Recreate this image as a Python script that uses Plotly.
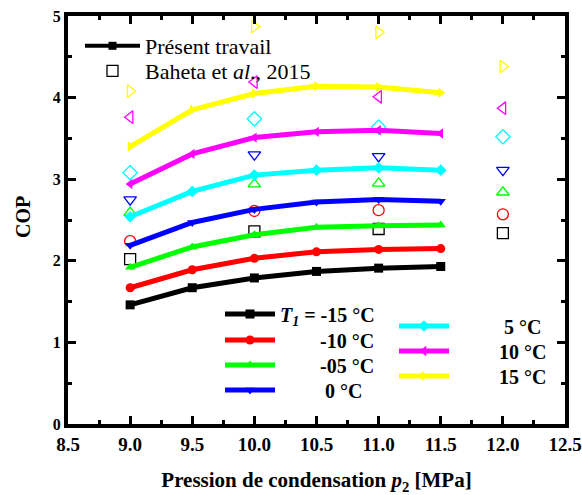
import plotly.graph_objects as go

# Condensing pressure p2 [MPa] for the computed curves
pressure = [9.0, 9.5, 10.0, 10.5, 11.0, 11.5]

# COP from the present model, one series per evaporating temperature T1
cop_m15 = [1.46, 1.67, 1.79, 1.87, 1.91, 1.93]
cop_m10 = [1.67, 1.89, 2.03, 2.11, 2.14, 2.15]
cop_m05 = [1.92, 2.17, 2.32, 2.41, 2.43, 2.44]
cop_0 = [2.19, 2.47, 2.63, 2.72, 2.75, 2.73]
cop_5 = [2.54, 2.85, 3.05, 3.11, 3.14, 3.11]
cop_10 = [2.94, 3.31, 3.51, 3.58, 3.60, 3.56]
cop_15 = [3.40, 3.85, 4.05, 4.14, 4.13, 4.06]

# Reference data (Baheta et al., 2015)
pressure_ref = [9.0, 10.0, 11.0, 12.0]
ref_m15 = [2.02, 2.36, 2.39, 2.34]
ref_m10 = [2.24, 2.61, 2.62, 2.57]
ref_m05 = [2.59, 2.94, 2.95, 2.84]
ref_0 = [2.75, 3.30, 3.28, 3.11]
ref_5 = [3.08, 3.74, 3.64, 3.52]
ref_10 = [3.76, 4.19, 4.01, 3.87]
ref_15 = [4.08, 4.87, 4.80, 4.38]

NB = "\u00a0"
labels = [
    "<i>T</i><sub><i>1</i></sub> = -15 °C",
    NB * 8 + "-10 °C",
    NB * 8 + "-05 °C",
    NB * 9 + "0 °C",
    NB * 10 + "5 °C",
    NB * 9 + "10 °C",
    NB * 9 + "15 °C",
]
colors = ["#000000", "#FF0000", "#00FF00", "#0000FF", "#00FFFF", "#FF00FF", "#FFFF00"]
symbols = ["square", "circle", "triangle-up", "triangle-down", "diamond",
           "triangle-left", "triangle-right"]
model = [cop_m15, cop_m10, cop_m05, cop_0, cop_5, cop_10, cop_15]
ref = [ref_m15, ref_m10, ref_m05, ref_0, ref_5, ref_10, ref_15]

# Plot area in pixels, used to place the one-row legends
X0, X1, Y0, Y1 = 68, 565, 16, 424


def px_x(px):
    return (px - X0) / (X1 - X0)


def px_y(py):
    return (Y1 - py) / (Y1 - Y0)


# (legend id, left edge px, row centre px) for every legend row
rows = [
    ("legend3", 220, 314), ("legend4", 220, 340), ("legend5", 220, 365), ("legend6", 220, 390),
    ("legend7", 394, 326), ("legend8", 394, 351), ("legend9", 394, 376),
]

fig = go.Figure()

# Reference points (open markers)
for i in range(7):
    fig.add_trace(go.Scatter(
        x=pressure_ref, y=ref[i], mode="markers",
        marker=dict(symbol=symbols[i] + "-open", size=11, color=colors[i],
                    line=dict(width=1.3, color=colors[i])),
        showlegend=(i == 0), name="Baheta et <i>al</i>., 2015",
        legend="legend2",
    ))

# Model curves
for i in range(7):
    fig.add_trace(go.Scatter(
        x=pressure, y=model[i], mode="lines+markers",
        line=dict(color=colors[i], width=5),
        marker=dict(symbol=symbols[i], size=9, color=colors[i]),
        name=labels[i],
        legend=rows[i][0],
    ))

# Legend entry for the present model
fig.add_trace(go.Scatter(
    x=[None], y=[None], mode="lines+markers", name="Présent travail",
    line=dict(color="black", width=4),
    marker=dict(symbol="square", size=8, color="black"),
    legend="legend",
))

axis_common = dict(
    showline=True, linewidth=4, linecolor="black", mirror="allticks",
    ticks="inside", ticklen=8, tickwidth=3, tickcolor="black",
    showgrid=False, zeroline=False, automargin=False,
    minor=dict(ticks="inside", ticklen=4, tickwidth=3, tickcolor="black", showgrid=False),
)

fig.update_xaxes(
    range=[8.5, 12.5], dtick=0.5, tick0=8.5, tickformat=".1f",
    minor_dtick=0.25,
    tickfont=dict(family="Liberation Serif", size=19, color="black", weight="bold"),
    title=dict(text="Pression de condensation <i>p</i><sub>2</sub> [MPa]",
               font=dict(family="Liberation Serif", size=21, color="black", weight="bold"),
               standoff=20),
    **axis_common,
)
fig.update_yaxes(
    range=[0, 5], dtick=1, minor_dtick=0.5,
    tickfont=dict(family="Liberation Serif", size=16, color="black", weight="bold"),
    **axis_common,
)

legend_base = dict(bgcolor="rgba(0,0,0,0)", tracegroupgap=0,
                   xanchor="left", yanchor="middle", itemclick=False,
                   itemdoubleclick=False)
serif = dict(family="Liberation Serif", color="black")

layout_legends = dict(
    legend=dict(x=px_x(80), y=px_y(46), itemwidth=55,
                font=dict(size=22, **serif), **legend_base),
    legend2=dict(x=px_x(80), y=px_y(71), itemwidth=55,
                 font=dict(size=22, **serif), **legend_base),
)
for key, left, centre in rows:
    layout_legends[key] = dict(x=px_x(left), y=px_y(centre), itemwidth=50,
                               font=dict(size=20, weight="bold", **serif), **legend_base)

fig.update_layout(
    width=582, height=495,
    margin=dict(l=X0, r=582 - X1, t=Y0, b=495 - Y1),
    paper_bgcolor="white", plot_bgcolor="white",
    showlegend=True,
    annotations=[dict(
        text="COP", textangle=-90, showarrow=False,
        xref="paper", yref="paper", x=px_x(23), y=px_y(217),
        xanchor="center", yanchor="middle",
        font=dict(size=20, weight="bold", **serif),
    )],
    **layout_legends,
)

fig.write_html("out.html")
